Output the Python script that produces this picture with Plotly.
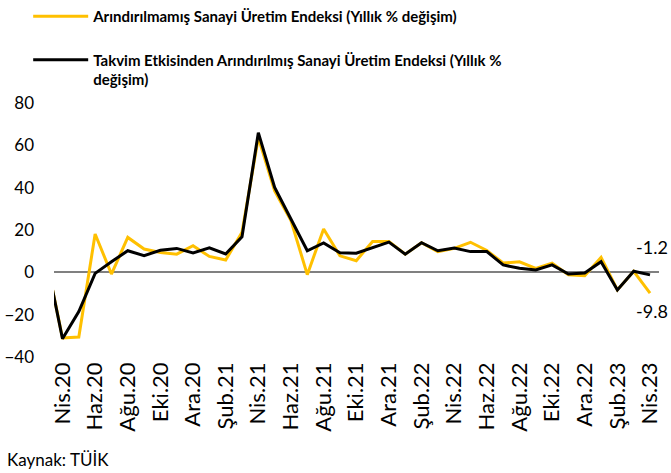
import plotly.graph_objects as go

months = ["Mar.20", "Nis.20", "May.20", "Haz.20", "Tem.20", "Ağu.20", "Eyl.20", "Eki.20", "Kas.20", "Ara.20",
          "Oca.21", "Şub.21", "Mar.21", "Nis.21", "May.21", "Haz.21", "Tem.21", "Ağu.21", "Eyl.21", "Eki.21",
          "Kas.21", "Ara.21", "Oca.22", "Şub.22", "Mar.22", "Nis.22", "May.22", "Haz.22", "Tem.22", "Ağu.22",
          "Eyl.22", "Eki.22", "Kas.22", "Ara.22", "Oca.23", "Şub.23", "Mar.23", "Nis.23"]

unadjusted = [6.5, -31.0, -30.6, 18.1, -0.8, 16.5, 11.0, 9.4, 8.6, 12.6,
              7.5, 5.8, 18.9, 63.7, 38.5, 24.5, -1.1, 20.5, 7.8, 5.5,
              14.6, 14.6, 8.6, 14.0, 9.8, 11.3, 14.2, 10.3, 4.4, 5.0,
              1.9, 4.3, -1.2, -1.6, 7.1, -8.3, 0.5, -9.8]

calendar_adj = [6.5, -31.4, -18.5, -0.5, 5.0, 10.2, 7.9, 10.4, 11.3, 9.2,
                11.6, 8.7, 16.8, 66.0, 40.1, 25.0, 10.2, 13.9, 9.2, 9.0,
                11.5, 14.3, 8.6, 14.0, 10.2, 11.5, 9.8, 9.8, 3.5, 1.9,
                1.1, 3.5, -0.8, -0.3, 5.0, -8.3, 0.5, -1.2]

tick_labels = months[1::2]

name1 = "<b>Arındırılmamış Sanayi Üretim Endeksi (Yıllık % değişim)</b>"
name2 = "<b>Takvim Etkisinden Arındırılmış Sanayi Üretim Endeksi (Yıllık %<br>değişim)</b>"

FONT = "Lato"

fig = go.Figure()
fig.add_trace(go.Scatter(x=months, y=unadjusted, mode="lines", name=name1, legendgroup="a",
                         line=dict(color="#FFC000", width=3)))
fig.add_trace(go.Scatter(x=months, y=calendar_adj, mode="lines", name=name2, legendgroup="b",
                         line=dict(color="#000000", width=3)))

fig.add_annotation(x=months[-1], y=calendar_adj[-1], text=f"{calendar_adj[-1]:.1f}",
                   showarrow=False, xanchor="right", yshift=28, xshift=20,
                   font=dict(family=FONT, size=18, color="#000"))
fig.add_annotation(x=months[-1], y=unadjusted[-1], text=f"{unadjusted[-1]:.1f}",
                   showarrow=False, xanchor="right", yshift=-18, xshift=20,
                   font=dict(family=FONT, size=18, color="#000"))
fig.add_annotation(xref="paper", yref="paper", x=-0.081, y=-0.405, xanchor="left", yanchor="middle",
                   text="Kaynak: TÜİK", showarrow=False,
                   font=dict(family=FONT, size=17, color="#000"))

fig.update_layout(
    width=671, height=473,
    margin=dict(l=54, r=12, t=103, b=116, autoexpand=False),
    paper_bgcolor="white", plot_bgcolor="white",
    font=dict(family=FONT, color="#000"),
    legend=dict(xref="container", yref="container", x=0.042, y=1.004, xanchor="left", yanchor="top",
                font=dict(family=FONT, size=15, color="#000"),
                valign="top", tracegroupgap=21, itemwidth=55,
                bgcolor="rgba(0,0,0,0)"),
    showlegend=True,
)
fig.update_xaxes(type="category", categoryorder="array", categoryarray=months,
                 range=[0.48, 37.55], tickmode="array", tickvals=tick_labels, ticktext=tick_labels,
                 tickangle=-90, showgrid=False, showline=False, ticks="", automargin=False,
                 tickfont=dict(family=FONT, size=22, color="#000"))
fig.update_yaxes(range=[-40, 80], tickvals=[-40, -20, 0, 20, 40, 60, 80],
                 showgrid=False, zeroline=True, zerolinecolor="#808080", zerolinewidth=2,
                 showline=False, ticks="", ticklabelstandoff=19, automargin=False,
                 tickfont=dict(family=FONT, size=17, color="#000"))

fig.write_html("out.html", config={"displayModeBar": False},
               post_script="document.body.style.margin='0';")
